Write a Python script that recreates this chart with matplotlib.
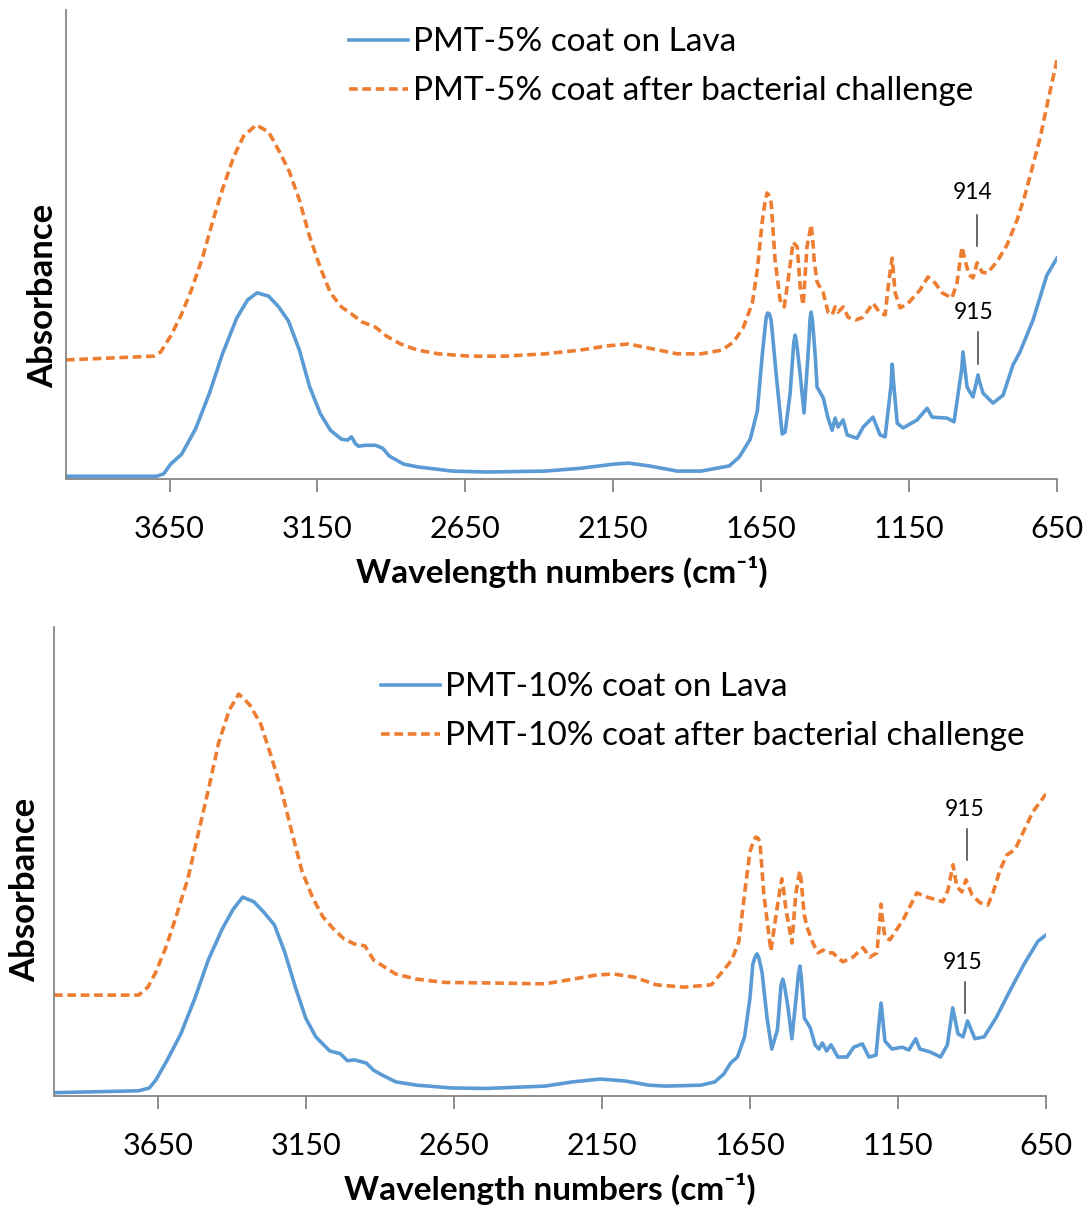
import matplotlib.pyplot as plt

plt.rcParams['font.family'] = ['Lato', 'DejaVu Sans']

# wavenumbers (cm-1) and absorbance (arbitrary units)
# top panel: PMT-5%
wn_5_lava = [4000, 3694, 3670, 3646, 3609, 3562, 3515, 3471, 3423, 3386, 3354, 3315, 3281, 3248, 3211,
             3177, 3140, 3106, 3069, 3048, 3035, 3021, 3011, 2988, 2954, 2930, 2907, 2859, 2812, 2694,
             2575, 2380, 2261, 2146, 2099, 2028, 1934, 1853, 1758, 1724, 1687, 1663, 1647, 1633, 1628, 1622, 1616,
             1599, 1579, 1569, 1552, 1540, 1535, 1530, 1518, 1505, 1488, 1485, 1481, 1476, 1467, 1461, 1440, 1424, 1410, 1400,
             1390, 1373, 1359, 1326, 1305, 1272, 1248, 1231, 1211, 1207, 1203, 1190, 1170, 1123, 1089, 1072, 1022,
             998, 984, 972, 968, 964, 954, 934, 921, 917, 913, 900, 866, 832, 799, 775, 731, 684, 650]
abs_5_lava = [0.006, 0.006, 0.011, 0.032, 0.053, 0.107, 0.183, 0.267, 0.343, 0.382, 0.397, 0.390, 0.367, 0.337, 0.275,
              0.198, 0.139, 0.104, 0.085, 0.083, 0.090, 0.075, 0.070, 0.072, 0.072, 0.066, 0.049, 0.032, 0.026, 0.017,
              0.015, 0.017, 0.023, 0.032, 0.034, 0.028, 0.017, 0.017, 0.028, 0.047, 0.085, 0.145, 0.260, 0.345, 0.354, 0.352, 0.337,
              0.222, 0.096, 0.100, 0.183, 0.290, 0.307, 0.290, 0.222, 0.141, 0.299, 0.340, 0.356, 0.335, 0.260, 0.196, 0.173, 0.130, 0.104, 0.130,
              0.111, 0.126, 0.094, 0.087, 0.111, 0.132, 0.094, 0.090, 0.200, 0.245, 0.210, 0.119, 0.109, 0.126, 0.151, 0.132, 0.130,
              0.122, 0.183, 0.235, 0.271, 0.250, 0.196, 0.175, 0.210, 0.222, 0.210, 0.183, 0.162, 0.179, 0.243, 0.271, 0.339, 0.435, 0.471]

wn_5_bact = [4000, 3704, 3680, 3646, 3609, 3575, 3538, 3504, 3471, 3433, 3400, 3357, 3315, 3281, 3246,
             3211, 3177, 3140, 3106, 3069, 3035, 2999, 2954, 2917, 2869, 2812, 2741, 2636, 2518, 2380,
             2261, 2170, 2099, 2028, 1934, 1853, 1782, 1744, 1711, 1680, 1663, 1647, 1636, 1630, 1624, 1616, 1603,
             1586, 1572, 1559, 1542, 1528, 1518, 1508, 1495, 1486, 1481, 1476, 1471, 1461, 1440, 1424, 1410, 1400,
             1390, 1373, 1356, 1332, 1305, 1272, 1248, 1231, 1218, 1211, 1207, 1203, 1197, 1180, 1153, 1113, 1086,
             1062, 1038, 1005, 988, 971, 961, 947, 934, 920, 903, 886, 853, 819, 785, 758,
             731, 707, 680, 650]
abs_5_bact = [0.254, 0.262, 0.271, 0.305, 0.352, 0.405, 0.473, 0.550, 0.618, 0.687, 0.731, 0.755, 0.740, 0.701, 0.657,
              0.595, 0.518, 0.450, 0.397, 0.367, 0.352, 0.335, 0.324, 0.305, 0.288, 0.275, 0.267, 0.262, 0.262, 0.267,
              0.275, 0.284, 0.288, 0.279, 0.267, 0.267, 0.275, 0.292, 0.322, 0.375, 0.446, 0.546, 0.595, 0.610, 0.605, 0.588, 0.467,
              0.382, 0.367, 0.424, 0.505, 0.495, 0.409, 0.371, 0.495, 0.525, 0.542, 0.515, 0.467, 0.420, 0.397, 0.356, 0.350, 0.367,
              0.356, 0.367, 0.345, 0.339, 0.345, 0.375, 0.354, 0.350, 0.424, 0.455, 0.471, 0.440, 0.397, 0.365, 0.375, 0.403, 0.431,
              0.418, 0.397, 0.386, 0.418, 0.495, 0.467, 0.435, 0.429, 0.461, 0.441, 0.439, 0.463, 0.499, 0.552, 0.606,
              0.670, 0.727, 0.808, 0.893]

# bottom panel: PMT-10%
wn_10_lava = [4000, 3714, 3678, 3656, 3619, 3572, 3525, 3479, 3432, 3396, 3363, 3325, 3292, 3256, 3221,
              3185, 3150, 3116, 3069, 3033, 3009, 2986, 2945, 2921, 2893, 2846, 2775, 2657, 2540, 2342,
              2248, 2155, 2072, 1991, 1934, 1815, 1768, 1738, 1715, 1692, 1668, 1650, 1640, 1632, 1626, 1620, 1609,
              1592, 1576, 1557, 1545, 1539, 1533, 1522, 1508, 1493, 1486, 1481, 1476, 1466, 1446, 1430, 1417, 1405, 1391, 1376,
              1353, 1322, 1299, 1270, 1248, 1224, 1211, 1207, 1203, 1194, 1170, 1136, 1113, 1090, 1076, 1042, 1006,
              983, 965, 947, 930, 915, 890, 859, 819, 772, 724, 677, 650]
abs_10_lava = [0.007, 0.011, 0.017, 0.034, 0.075, 0.132, 0.207, 0.290, 0.356, 0.397, 0.424, 0.414, 0.392, 0.365, 0.307,
               0.232, 0.166, 0.126, 0.096, 0.090, 0.075, 0.077, 0.070, 0.055, 0.045, 0.030, 0.023, 0.017, 0.016, 0.021,
               0.030, 0.036, 0.032, 0.023, 0.021, 0.023, 0.030, 0.047, 0.070, 0.083, 0.126, 0.207, 0.281, 0.297, 0.303, 0.295, 0.264,
               0.166, 0.100, 0.141, 0.235, 0.249, 0.235, 0.192, 0.122, 0.215, 0.260, 0.277, 0.250, 0.166, 0.145, 0.109, 0.100, 0.113, 0.096, 0.109,
               0.083, 0.083, 0.104, 0.111, 0.083, 0.087, 0.175, 0.198, 0.175, 0.117, 0.100, 0.104, 0.098, 0.122, 0.100, 0.094, 0.083,
               0.109, 0.188, 0.132, 0.126, 0.160, 0.122, 0.126, 0.166, 0.224, 0.281, 0.330, 0.343]

wn_10_bact = [4000, 3714, 3683, 3656, 3619, 3585, 3548, 3515, 3479, 3444, 3408, 3376, 3339, 3302, 3268,
              3232, 3197, 3163, 3126, 3092, 3056, 3021, 2986, 2950, 2921, 2879, 2846, 2775, 2680, 2540,
              2342, 2248, 2167, 2109, 2038, 1967, 1873, 1780, 1744, 1711, 1687, 1668, 1650, 1637, 1630, 1623, 1616,
              1603, 1579, 1559, 1547, 1542, 1537, 1528, 1508, 1495, 1486, 1481, 1476, 1467, 1457, 1437, 1420, 1403, 1386, 1370,
              1336, 1302, 1268, 1245, 1221, 1210, 1207, 1204, 1194, 1177, 1133, 1086, 1052, 998, 981, 964, 951,
              934, 920, 900, 873, 846, 829, 805, 782, 755, 728, 694, 650]
abs_10_bact = [0.215, 0.215, 0.232, 0.264, 0.322, 0.388, 0.463, 0.554, 0.652, 0.753, 0.823, 0.857, 0.834, 0.793, 0.727,
               0.652, 0.563, 0.480, 0.422, 0.382, 0.356, 0.335, 0.324, 0.320, 0.290, 0.273, 0.260, 0.249, 0.242, 0.241,
               0.239, 0.249, 0.258, 0.260, 0.253, 0.237, 0.232, 0.237, 0.264, 0.290, 0.330, 0.431, 0.520, 0.545, 0.552, 0.550, 0.542,
               0.431, 0.309, 0.397, 0.445, 0.463, 0.445, 0.397, 0.326, 0.431, 0.465, 0.480, 0.455, 0.388, 0.360, 0.326, 0.305, 0.311, 0.305, 0.305,
               0.286, 0.296, 0.316, 0.296, 0.305, 0.385, 0.409, 0.385, 0.339, 0.333, 0.375, 0.433, 0.424, 0.414, 0.439, 0.493, 0.446,
               0.435, 0.461, 0.429, 0.412, 0.407, 0.433, 0.482, 0.514, 0.525, 0.561, 0.606, 0.644]

xticks = [3650, 3150, 2650, 2150, 1650, 1150, 650]

blue = '#5B9BD5'
orange = '#ED7D31'
axis_grey = '#868686'

fig = plt.figure(figsize=(10.89, 12.07), dpi=100)
ax1 = fig.add_axes([0.0606, 0.6031, 0.9100, 0.3886])
ax2 = fig.add_axes([0.0496, 0.0920, 0.9109, 0.3886])

panels = [
    (ax1, wn_5_lava, abs_5_lava, wn_5_bact, abs_5_bact,
     'PMT-5% coat on Lava', 'PMT-5% coat after bacterial challenge',
     (0.2856, 0.963), (-0.007, 0.390)),
    (ax2, wn_10_lava, abs_10_lava, wn_10_bact, abs_10_bact,
     'PMT-10% coat on Lava', 'PMT-10% coat after bacterial challenge',
     (0.3296, 0.903), (-0.013, 0.439)),
]

for ax, wl, al, wb, ab, lab1, lab2, leg_pos, ylab_pos in panels:
    ax.plot(wl, al, color=blue, lw=2.6, label=lab1)
    ax.plot(wb, ab, color=orange, lw=2.6, dashes=(2.4, 1.3), label=lab2)

    ax.set_xlim(4000, 650)
    ax.set_ylim(0, 1)
    ax.set_xticks(xticks)
    ax.set_xticklabels([str(t) for t in xticks])
    ax.set_yticks([])
    ax.spines['top'].set_visible(False)
    ax.spines['right'].set_visible(False)
    for s in ['left', 'bottom']:
        ax.spines[s].set_color(axis_grey)
        ax.spines[s].set_linewidth(1.3)
    ax.tick_params(axis='x', direction='out', length=9, width=1.3, color=axis_grey,
                   labelsize=22, pad=17)

    ax.set_xlabel('Wavelength numbers (cm⁻¹)', fontsize=24, fontweight='bold')
    ax.xaxis.set_label_coords(0.5, -0.163)
    ax.set_ylabel('Absorbance', fontsize=25, fontweight='bold')
    ax.yaxis.set_label_coords(*ylab_pos)

    ax.legend(loc='upper left', bbox_to_anchor=leg_pos, frameon=False, fontsize=24,
              handlelength=1.77, handletextpad=0.16, labelspacing=0.57,
              borderpad=0, borderaxespad=0)

# peak labels: (axis, text, x of text, x of tick, y of text, tick top, tick bottom)
peak_marks = [
    (ax1, '914', 936, 920, 0.610, 0.563, 0.497),
    (ax1, '915', 933, 917, 0.356, 0.313, 0.245),
    (ax2, '915', 924, 917, 0.610, 0.569, 0.503),
    (ax2, '915', 930, 922, 0.284, 0.243, 0.177),
]
for ax, txt, xt, xl, yt, y0, y1 in peak_marks:
    tr = ax.get_xaxis_transform()
    ax.text(xt, yt, txt, transform=tr, ha='center', va='center', fontsize=16.5)
    ax.plot([xl, xl], [y0, y1], transform=tr, color='#404040', lw=1.1)

fig.savefig('out.png', dpi=100)
